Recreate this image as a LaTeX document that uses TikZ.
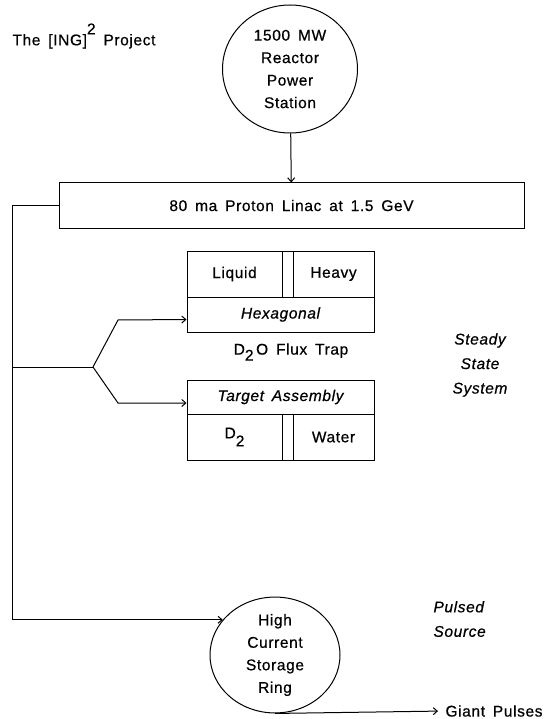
\documentclass[tikz,border=0pt]{standalone}
\usepackage{fontspec}
\setmainfont{Liberation Sans}[LetterSpace=4,WordSpace=1.6,FakeBold=0.6]
\usetikzlibrary{positioning,shapes.geometric,arrows.meta}

\begin{document}
\begin{tikzpicture}[x=1pt, y=-1pt, font=\fontsize{15.5}{22.5}\selectfont,
    line width=1pt, >={Straight Barb[length=4pt,width=7pt]},
    cell/.style={draw, inner sep=0pt, minimum height=46pt},
    wide/.style={draw, inner sep=0pt, minimum width=187pt},
    source/.style={draw, ellipse, align=center, inner sep=0pt},
    remark/.style={font=\fontsize{15.5}{24.5}\selectfont\itshape, inner sep=0pt}]
        \useasboundingbox (0,0) rectangle (547,719);
        \node[anchor=west, inner sep=0pt] (title) at (12,36)
          {The [ING]\raisebox{11pt}{2}\ Project};
        \node[source, minimum width=135pt, minimum height=128pt] (station)
          at (290,69) {1500 MW\\Reactor\\Power\\Station};
        \node[draw, minimum width=465pt, minimum height=45pt] (linac)
          at (291.5,205.5) {80 ma Proton Linac at 1.5 GeV};
        % flux trap
        \node[cell, minimum width=95pt] (liquid) at (234.5,274) {Liquid};
        \node[cell, minimum width=11pt] (gapup) at (287.5,274) {};
        \node[cell, minimum width=81pt] (heavy) at (333.5,274) {Heavy};
        \node[wide, minimum height=35pt] (hex) at (280.5,314.5) {\itshape Hexagonal};
        \node[inner sep=0pt] (trap) at (291,352)
          {D\raisebox{-6pt}{2}\,O Flux Trap};
        \node[wide, minimum height=34pt] (target) at (280.5,397)
          {\itshape Target\ Assembly};
        \node[cell, minimum width=95pt] (dtwo) at (234.5,437)
          {D\raisebox{-8pt}{2}};
        \node[cell, minimum width=11pt] (gapdown) at (287.5,437) {};
        \node[cell, minimum width=81pt] (water) at (333.5,437) {Water};
        \node[remark, align=center] (steady) at (480,365)
          {Steady\\State\\System};
        % pulsed part
        \node[source, minimum width=130pt, minimum height=114pt] (ring)
          at (275,655) {High\\Current\\Storage\\Ring};
        \node[remark, align=left, anchor=west] (pulsed) at (433,619)
          {Pulsed\\Source};
        \node[anchor=west, inner sep=0pt] (giant) at (445,711) {Giant Pulses};
        \coordinate (fork) at (93,367);
        \coordinate (busmid) at (13,367);
        \draw[->] (station) -- (linac);
        \draw[->] (linac.west) -- ++(-46,0) |- (ring.146);
        \draw (busmid) -- (fork);
        \draw[->] (fork) -- ++(25,-47) -- ([yshift=-5pt]hex.west);
        \draw[->] (fork) -- ++(25,36) -- ([yshift=-6pt]target.west);
        \draw[->, shorten >=7pt] (ring.south) -- (giant.west);
\end{tikzpicture}
\end{document}
